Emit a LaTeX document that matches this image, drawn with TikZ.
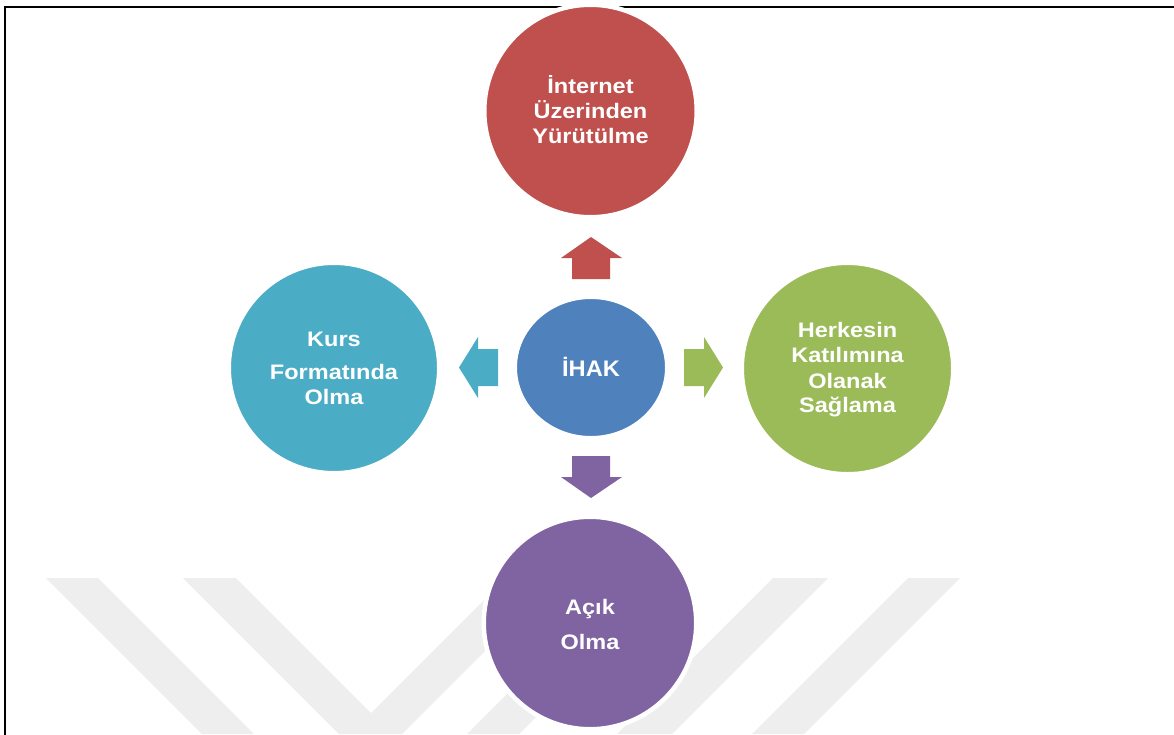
\documentclass[tikz,border=0pt]{standalone}
\usepackage{fontspec}
\newfontfamily\lblfont[FakeStretch=1.12]{Liberation Sans}
\newfontfamily\ctrfont[FakeStretch=1.05]{Liberation Sans}
\usetikzlibrary{shapes.geometric}
\definecolor{cRed}{HTML}{C0504D}
\definecolor{cBlue}{HTML}{4F81BD}
\definecolor{cGreen}{HTML}{9BBB59}
\definecolor{cPurple}{HTML}{8064A2}
\definecolor{cCyan}{HTML}{4BACC6}
\definecolor{wmark}{HTML}{EEEEEE}
\tikzset{
  bubble/.style={circle, draw=white, line width=4.5pt, inner sep=0pt},
  txt/.style={text=white, font=\lblfont\bfseries\fontsize{21}{25}\selectfont, inner sep=0pt, anchor=base},
  ctxt/.style={text=white, font=\ctrfont\bfseries\fontsize{22.5}{26}\selectfont, inner sep=0pt, anchor=base},
  frame/.style={draw=black, line width=1.7pt},
  wm/.style={fill=wmark}
}
\begin{document}
\begin{tikzpicture}[x=1pt,y=-1pt]
\useasboundingbox (0,0) rectangle (1174,734);
\fill[white] (0,0) rectangle (1174,734);
% watermark
\fill[wm] (46,578) -- (98,578) -- (254,734) -- (202,734) -- cycle;
\fill[wm] (183,578) -- (236,578) -- (371,713) -- (506,578) -- (558,578) -- (402,734) -- (339,734) -- cycle;
\fill[wm] (467,734) -- (519,734) -- (675,578) -- (623,578) -- cycle;
\fill[wm] (773,578) -- (828,578) -- (672,734) -- (617,734) -- cycle;
\fill[wm] (908,578) -- (960,578) -- (804,734) -- (752,734) -- cycle;
% frame
\coordinate (fTL) at (5.2,6.8);
\coordinate (fTR) at (1174,6.8);
\coordinate (fBL) at (5.2,734);
\draw[frame, line cap=rect] (fTR) -- (fTL) -- (fBL);
% circles
\node[bubble, fill=cRed, minimum size=212.5pt] (net) at (590.5,111) {};
\node[bubble, fill=cCyan, minimum size=210.5pt] (kurs) at (334,368) {};
\node[bubble, fill=cGreen, minimum size=211.5pt] (herk) at (847.5,368.5) {};
\node[bubble, fill=cPurple, minimum size=212.5pt] (acik) at (590,623) {};
\node[ellipse, draw=white, line width=4.5pt, inner sep=0pt, fill=cBlue,
      minimum width=152.5pt, minimum height=141.5pt] (ihak) at (591,367.5) {};
% block arrows
\fill[cRed] (591,237) -- (622,258) -- (610,258) -- (610,279) -- (572,279) -- (572,258) -- (561,258) -- cycle;
\fill[cPurple] (591,498) -- (622,477) -- (610,477) -- (610,456) -- (572,456) -- (572,477) -- (561,477) -- cycle;
\fill[cCyan] (459,367.5) -- (478,337) -- (478,349) -- (498,349) -- (498,386) -- (478,386) -- (478,398) -- cycle;
\fill[cGreen] (723,367.5) -- (704,337) -- (704,349) -- (684,349) -- (684,386) -- (704,386) -- (704,398) -- cycle;
% texts
\node[txt] (n1) at (590.5,93.3) {İnternet};
\node[txt] (n2) at (590.5,118.3) {Üzerinden};
\node[txt] (n3) at (590.5,143.3) {Yürütülme};
\node[ctxt] (c1) at (591,376) {İHAK};
\node[txt] (k1) at (334,346) {Kurs};
\node[txt] (k2) at (334,379.3) {Formatında};
\node[txt] (k3) at (334,404.5) {Olma};
\node[txt] (h1) at (847.5,337.7) {Herkesin};
\node[txt] (h2) at (847.5,362.3) {Katılımına};
\node[txt] (h3) at (847.5,388) {Olanak};
\node[txt] (h4) at (847.5,412.5) {Sağlama};
\node[txt] (a1) at (590,614) {Açık};
\node[txt] (a2) at (590,649) {Olma};
\end{tikzpicture}
\end{document}
